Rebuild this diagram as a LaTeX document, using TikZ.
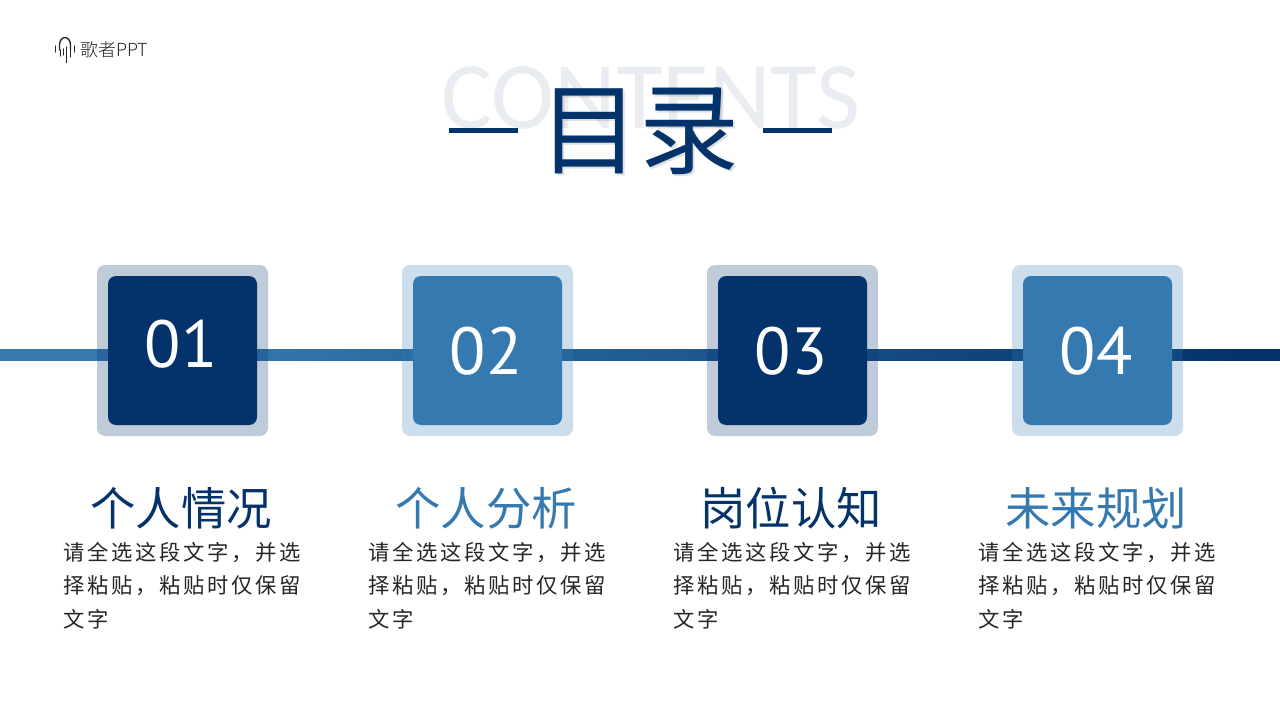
\documentclass[tikz,border=0pt]{standalone}
\usepackage{fontspec}
\setmainfont{Carlito}
\newfontfamily\digitfont{PT Sans}
\newfontfamily\cjk{Noto Sans CJK SC}
\newfontfamily\cjkbody[LetterSpace=12.5]{Noto Sans CJK SC}
\newfontfamily\cjklogo{Noto Sans CJK SC Light}
\definecolor{navy}{HTML}{03336A}
\definecolor{steel}{HTML}{3579B1}
\definecolor{ghost}{HTML}{E9ECF1}
\pgfdeclarehorizontalshading{timelineshade}{100bp}{color(0bp)=(steel);color(33bp)=(steel);color(73.5bp)=(navy);color(100bp)=(navy)}
\tikzset{
  halo/.style={rounded corners=6pt,fill opacity=.25,draw=none,minimum size=128.25pt,inner sep=0pt},
  core/.style={rounded corners=6pt,draw=none,minimum size=111.75pt,inner sep=0pt},
  digits/.style={inner sep=0pt,text=white,font=\digitfont\fontsize{50}{50}\selectfont},
  heading/.style={font=\cjk\fontsize{34}{34}\selectfont,inner sep=0pt,anchor=center},
  bodyline/.style={font=\cjkbody\fontsize{16}{16}\selectfont,inner sep=0pt,anchor=west,text=black!85},
  logobar/.style={line width=1pt,line cap=round,draw=black!85},
  rulebar/.style={fill=navy,draw=none}
}
\begin{document}
\begin{tikzpicture}[x=.75pt,y=-.75pt]
\useasboundingbox (0,0) rectangle (1280,720);
\fill[white] (0,0) rectangle (1280,720);
% logo
\draw[logobar] (59.5,50) -- (59.5,45) arc[start angle=180,end angle=360,x radius=5.5,y radius=7.5] -- (70.5,50);
\draw[logobar] (55.5,46) -- (55.5,52);
\draw[logobar] (60.5,50) -- (60.5,56);
\draw[logobar] (63.5,49) -- (63.5,55);
\draw[logobar] (66.5,47) -- (66.5,62.5);
\draw[logobar] (70.5,50) -- (70.5,57);
\draw[logobar] (74.5,46) -- (74.5,52);
\node[inner sep=0pt,anchor=west,text=black!85] (logotext) at (80,50) {\cjklogo\fontsize{13.5}{13.5}\selectfont 歌者PPT};
% title
\node[inner sep=0pt,text=ghost,font=\fontsize{71.5}{71.5}\selectfont] (contents) at (651,98) {CONTENTS};
\node[inner sep=0pt,text=black,opacity=.12,font=\cjk\fontsize{75}{75}\selectfont] (titleshadow) at (641,133) {目录};
\node[inner sep=0pt,text=navy,font=\cjk\fontsize{75}{75}\selectfont] (title) at (639,131) {目录};
\path[rulebar] (449,128) rectangle (518,133);
\path[rulebar] (763,128) rectangle (832,133);
% timeline
\shade[shading=timelineshade] (0,349.5) rectangle (1280,360.5);
% boxes
\node[halo,fill=navy] (h1) at (182.5,350.5) {};
\node[halo,fill=steel] (h2) at (487.5,350.5) {};
\node[halo,fill=navy] (h3) at (792.5,350.5) {};
\node[halo,fill=steel] (h4) at (1097.5,350.5) {};
\node[core,fill=navy] (c1) at (182.5,350.5) {};
\node[core,fill=steel] (c2) at (487.5,350.5) {};
\node[core,fill=navy] (c3) at (792.5,350.5) {};
\node[core,fill=steel] (c4) at (1097.5,350.5) {};
\node[digits] (n1) at (181,344) {01};
\node[digits] (n2) at (486,351) {02};
\node[digits] (n3) at (791,351) {03};
\node[digits] (n4) at (1096,351) {04};
% headings
\node[heading,text=navy] (t1) at (181,508) {个人情况};
\node[heading,text=steel] (t2) at (486,508) {个人分析};
\node[heading,text=navy] (t3) at (791,508) {岗位认知};
\node[heading,text=steel] (t4) at (1096,508) {未来规划};
% bodies
\foreach \i/\x in {1/63,2/368,3/673,4/978}{
  \node[bodyline] (b\i a) at (\x,553) {请全选这段文字，并选};
  \node[bodyline] (b\i b) at (\x,586) {择粘贴，粘贴时仅保留};
  \node[bodyline] (b\i c) at (\x,619) {文字};
}
\end{tikzpicture}
\end{document}
